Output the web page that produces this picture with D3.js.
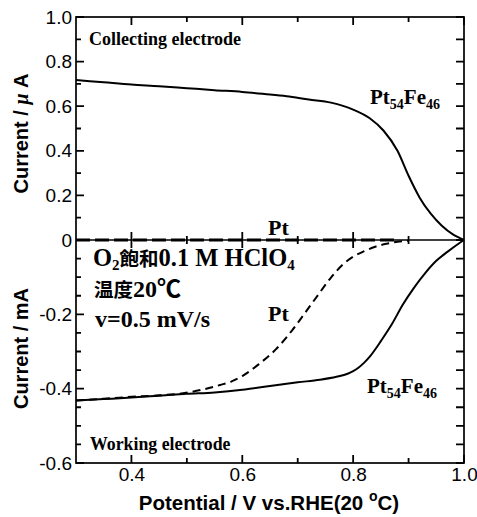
<!DOCTYPE html>
<html><head><meta charset="utf-8">
<script src="https://cdn.jsdelivr.net/npm/d3@7"></script>
<style>body{margin:0;background:#fff} svg{display:block}</style>
</head><body>
<svg id="c" width="477" height="517"></svg>
<script>
// ---- data (potential V vs RHE, current) ----
const potentialCollectPtFe = [0.30,0.35,0.40,0.45,0.50,0.55,0.60,0.64,0.68,0.72,0.76,0.80,0.83,0.855,0.88,0.90,0.92,0.94,0.96,0.98,1.00];
const currentCollectPtFe   = [0.717,0.707,0.697,0.690,0.681,0.672,0.664,0.655,0.645,0.630,0.616,0.585,0.546,0.490,0.400,0.288,0.190,0.118,0.064,0.025,0.0];
const potentialCollectPt = [0.30,0.40,0.50,0.60,0.70,0.80,0.88];
const currentCollectPt   = [0.0,0.0,0.0,0.0,0.0,0.0,0.0];
const potentialWorkPtFe = [0.30,0.35,0.40,0.45,0.50,0.55,0.60,0.65,0.70,0.74,0.77,0.79,0.80,0.81,0.82,0.83,0.84,0.85,0.87,0.89,0.91,0.93,0.95,0.97,0.99,1.00];
const currentWorkPtFe   = [-0.432,-0.428,-0.424,-0.419,-0.414,-0.410,-0.403,-0.393,-0.383,-0.376,-0.368,-0.360,-0.353,-0.343,-0.330,-0.314,-0.294,-0.272,-0.226,-0.173,-0.128,-0.089,-0.056,-0.032,-0.010,0.0];
const potentialWorkPt = [0.30,0.35,0.40,0.45,0.49,0.53,0.56,0.58,0.60,0.63,0.66,0.69,0.72,0.74,0.76,0.78,0.80,0.82,0.84,0.86,0.88,0.90];
const currentWorkPt   = [-0.432,-0.427,-0.422,-0.418,-0.413,-0.402,-0.390,-0.381,-0.366,-0.334,-0.295,-0.243,-0.182,-0.141,-0.101,-0.068,-0.045,-0.030,-0.018,-0.010,-0.005,-0.002];

const xTickValues = [0.4,0.6,0.8,1.0];
const xTickLabels = ["0.4","0.6","0.8","1.0"];
const xMinorValues = [0.5,0.7,0.9];
const yTopTickValues = [0,0.2,0.4,0.6,0.8,1.0];
const yTopTickLabels = ["0","0.2","0.4","0.6","0.8","1.0"];
const yTopMinorValues = [0.1,0.3,0.5,0.7,0.9];
const yBotTickValues = [-0.6,-0.4,-0.2];
const yBotTickLabels = ["-0.6","-0.4","-0.2"];
const yBotMinorValues = [-0.55,-0.5,-0.45,-0.35,-0.3,-0.25,-0.15,-0.1,-0.05];

// ---- layout ----
const L = 76, R = 464, T = 17, Z = 240, B = 463;
const svg = d3.select("#c");
const x = d3.scaleLinear().domain([0.3,1.0]).range([L,R]);
const yTop = d3.scaleLinear().domain([0,1]).range([Z,T]);
const yBot = d3.scaleLinear().domain([-0.6,0]).range([B,Z]);

const sans = "'Liberation Sans', Arial, sans-serif";
const serif = "'Liberation Serif', 'Times New Roman', serif";
const cjk = "'Noto Sans CJK SC', sans-serif";

// frame and zero line
svg.append("rect").attr("x",L).attr("y",T).attr("width",R-L).attr("height",B-T)
  .attr("fill","none").attr("stroke","#000").attr("stroke-width",1.7);
svg.append("path").attr("d",`M${L},${Z}L${R},${Z}`).attr("stroke","#000").attr("stroke-width",1.3);

// tick marks drawn as one path
const segs = [];
yTopTickValues.forEach(v=>{segs.push([L,yTop(v),L+8,yTop(v)]); segs.push([R,yTop(v),R-8,yTop(v)]);});
yTopMinorValues.forEach(v=>{segs.push([L,yTop(v),L+5,yTop(v)]); segs.push([R,yTop(v),R-8,yTop(v)]);});
yBotTickValues.forEach(v=>{segs.push([L,yBot(v),L+8,yBot(v)]); segs.push([R,yBot(v),R-8,yBot(v)]);});
yBotMinorValues.forEach(v=>{segs.push([L,yBot(v),L+5,yBot(v)]); segs.push([R,yBot(v),R-8,yBot(v)]);});
xTickValues.forEach(v=>{segs.push([x(v),B,x(v),B-8]); segs.push([x(v),T,x(v),T+8]);});
xMinorValues.forEach(v=>{segs.push([x(v),B,x(v),B-5]); segs.push([x(v),T,x(v),T+5]);});
xTickValues.filter(v=>v<1).forEach(v=>segs.push([x(v),Z-8,x(v),Z+8]));
xMinorValues.forEach(v=>segs.push([x(v),Z-4,x(v),Z+4]));
svg.append("path").attr("d",segs.map(s=>`M${s[0]},${s[1]}L${s[2]},${s[3]}`).join(""))
  .attr("fill","none").attr("stroke","#000").attr("stroke-width",1.8);

// tick labels via d3 axes (no tick lines)
function styleAxis(g){
  g.select(".domain").remove();
  g.selectAll(".tick line").remove();
  g.selectAll(".tick text").attr("fill","#000").style("font-family",sans).style("font-size","19px");
}
svg.append("g").attr("transform",`translate(${L},0)`)
  .call(d3.axisLeft(yTop).tickValues(yTopTickValues).tickSize(0).tickPadding(4)
    .tickFormat((d,i)=>yTopTickLabels[i])).call(styleAxis);
svg.append("g").attr("transform",`translate(${L},0)`)
  .call(d3.axisLeft(yBot).tickValues(yBotTickValues).tickSize(0).tickPadding(4)
    .tickFormat((d,i)=>yBotTickLabels[i])).call(styleAxis);
svg.append("g").attr("transform",`translate(0,${B})`)
  .call(d3.axisBottom(x).tickValues(xTickValues).tickSize(0).tickPadding(5)
    .tickFormat((d,i)=>xTickLabels[i])).call(styleAxis);

// curves
const lineTop = d3.line().x(d=>x(d[0])).y(d=>yTop(d[1])).curve(d3.curveMonotoneX);
const lineBot = d3.line().x(d=>x(d[0])).y(d=>yBot(d[1])).curve(d3.curveMonotoneX);
const zip = (a,b)=>a.map((v,i)=>[v,b[i]]);

svg.append("path").attr("d",lineTop(zip(potentialCollectPtFe,currentCollectPtFe)))
  .attr("fill","none").attr("stroke","#000").attr("stroke-width",2);
svg.append("path").attr("d",lineTop(zip(potentialCollectPt,currentCollectPt)))
  .attr("fill","none").attr("stroke","#000").attr("stroke-width",3.2).attr("stroke-dasharray","14,5");
svg.append("path").attr("d",lineBot(zip(potentialWorkPtFe,currentWorkPtFe)))
  .attr("fill","none").attr("stroke","#000").attr("stroke-width",2);
svg.append("path").attr("d",lineBot(zip(potentialWorkPt,currentWorkPt)))
  .attr("fill","none").attr("stroke","#000").attr("stroke-width",2).attr("stroke-dasharray","8,5");

// axis titles
svg.append("text").attr("transform",`translate(28,${(T+Z)/2+5}) rotate(-90)`)
  .attr("text-anchor","middle").style("font-family",sans).style("font-weight","bold").style("font-size","20px")
  .call(t=>{t.append("tspan").text("Current / ");
            t.append("tspan").style("font-family",serif).style("font-style","italic").text("μ");
            t.append("tspan").text(" A");});
svg.append("text").attr("transform",`translate(28,${(Z+B)/2-3}) rotate(-90)`)
  .attr("text-anchor","middle").style("font-family",sans).style("font-weight","bold").style("font-size","20px")
  .text("Current / mA");
svg.append("text").attr("x",(L+R)/2-1).attr("y",510).attr("text-anchor","middle")
  .style("font-family",sans).style("font-weight","bold").style("font-size","20.5px")
  .call(t=>{t.append("tspan").text("Potential / V vs.RHE(20 ");
            t.append("tspan").style("font-size","14px").attr("dy",-9).text("o");
            t.append("tspan").attr("dy",9).text("C)");});

// annotations
function sText(xp,yp,size){
  return svg.append("text").attr("x",xp).attr("y",yp).style("font-family",serif)
    .style("font-weight","bold").style("font-size",size+"px");
}
sText(89,45,18).text("Collecting electrode");
sText(90,450,17.8).text("Working electrode");
function ptfe(xp,yp){
  const t = sText(xp,yp,21);
  t.append("tspan").text("Pt");
  t.append("tspan").style("font-size","14px").attr("dy",5).text("54");
  t.append("tspan").attr("dy",-5).text("Fe");
  t.append("tspan").style("font-size","14px").attr("dy",5).text("46");
}
ptfe(370,104);
ptfe(367,393);
sText(268,235,22).text("Pt");
sText(268,321,22).text("Pt");

const o2 = sText(93,266,24.5);
o2.append("tspan").text("O");
o2.append("tspan").style("font-size","15px").attr("dy",4).text("2");
o2.append("tspan").attr("dy",-4).style("font-family",cjk).style("font-size","19.5px").text("飽和");
o2.append("tspan").text("0.1 M HClO");
o2.append("tspan").style("font-size","15px").attr("dy",4).text("4");
const temp = sText(94,297,24);
temp.append("tspan").style("font-family",cjk).style("font-size","19.5px").text("温度");
temp.append("tspan").text("20");
temp.append("tspan").style("font-family",cjk).style("font-size","24px").text("℃");
sText(95,327,24).text("v=0.5 mV/s");
</script>
</body></html>
